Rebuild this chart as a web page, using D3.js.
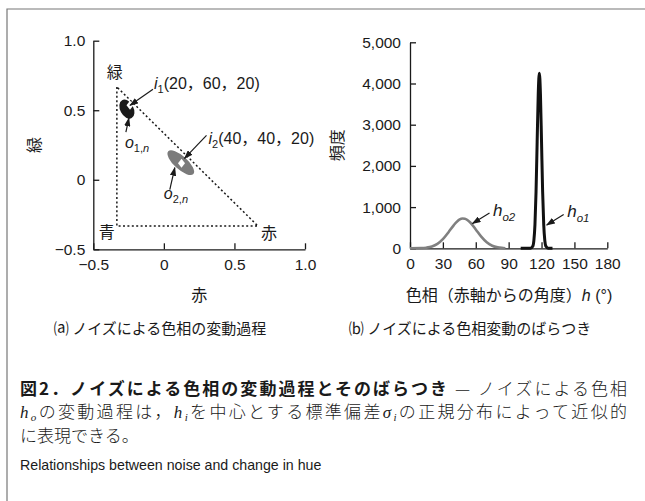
<!DOCTYPE html>
<html>
<head>
<meta charset="utf-8">
<style>
  body{ margin:0; background:#fff; }
  svg{ font-family:"Liberation Sans","Noto Sans CJK JP",sans-serif; }
  svg text{ fill:#1a1a1a; }
  .tick text{ font-size:15.5px; font-family:"Liberation Sans",sans-serif; }
  .domain, .tick line{ stroke:#1a1a1a; stroke-width:1.3; }
  .jp{ font-family:"Noto Sans CJK JP",sans-serif; }
</style>
<script src="https://d3js.org/d3.v7.min.js"></script>
</head>
<body>
<svg id="fig" width="645" height="501"></svg>
<script>
// (a) colour plane: triangle corners, inputs i and scattered outputs o
const planeTicks = [-0.5, 0, 0.5, 1.0];
const planeTickLabels = ['−0.5', '0', '0.5', '1.0'];
const primaryNames = ['緑', '青', '赤'];
const primaryX = [-0.333, -0.333, 0.667];
const primaryY = [0.667, -0.333, -0.333];
const inputIds = ['1', '2'];
const inputRGB = ['(20，60，20)', '(40，40，20)'];
const inputX = [-0.24, 0.125];
const inputY = [0.535, 0.118];
const outputX = [-0.262, 0.12];
const outputY = [0.508, 0.123];
const outputSpreadLong = [0.072, 0.12];
const outputSpreadShort = [0.047, 0.047];
const outputTilt = [62, 42];

// (b) hue histogram
const hueTicks = [0, 30, 60, 90, 120, 150, 180];
const countTicks = [0, 1000, 2000, 3000, 4000, 5000];
const countTickLabels = ['0', '1,000', '2,000', '3,000', '4,000', '5,000'];
const o2Hue = [0, 10, 15, 20, 25, 30, 35, 40, 45, 48, 50, 55, 60, 65, 70, 75, 80, 85, 87];
const o2Count = [0, 4, 15, 43, 107, 221, 385, 564, 695, 724, 719, 626, 458, 282, 146, 63, 23, 7, 2];
const o1Hue = [101, 110, 112, 113, 114, 115, 116, 117, 118, 119, 120, 121, 122, 123, 124, 126, 130];
const o1Count = [0, 1, 47, 187, 575, 1380, 2578, 3750, 4250, 3750, 2578, 1380, 575, 187, 47, 1, 0];

const svg = d3.select('#fig');
const ink = '#1a1a1a';

// frame
svg.append('path').attr('d', 'M7,501V9H645').attr('fill', 'none').attr('stroke', '#777').attr('stroke-width', 1.2);

svg.append('defs').append('marker')
  .attr('id', 'head').attr('markerUnits', 'userSpaceOnUse')
  .attr('viewBox', '0 0 10 7').attr('refX', 9).attr('refY', 3.5)
  .attr('markerWidth', 9).attr('markerHeight', 6.5).attr('orient', 'auto')
  .append('path').attr('d', 'M0,0L10,3.5L0,7z').attr('fill', ink);

function arrow(x1, y1, x2, y2){
  svg.append('line').attr('x1', x1).attr('y1', y1).attr('x2', x2).attr('y2', y2)
    .attr('stroke', ink).attr('stroke-width', 1.2).attr('marker-end', 'url(#head)');
}

// text made of pieces, sub pieces are lowered and smaller
function rich(parent, x, y, parts, size, subSize, drop){
  const t = parent.append('text').attr('x', x).attr('y', y).attr('font-size', size);
  let shift = 0;
  const low = drop == null ? Math.round(size*0.28) : drop;
  parts.forEach(p=>{
    const s = t.append('tspan').text(p.t);
    const want = p.sub ? low : 0;
    if(want !== shift){ s.attr('dy', want - shift); shift = want; }
    if(p.sub) s.attr('font-size', subSize);
    if(p.it) s.attr('font-style', 'italic');
    if(p.font) s.attr('font-family', p.font);
    if(p.w) s.attr('font-weight', p.w);
  });
  return t;
}

// ---------- (a) ----------
const xA = d3.scaleLinear().domain([-0.5, 1.0]).range([93.3, 305]);
const yA = d3.scaleLinear().domain([-0.5, 1.0]).range([249.3, 40.7]);

svg.append('g').attr('transform', `translate(0,${yA(-0.5)})`)
  .call(d3.axisBottom(xA).tickValues(planeTicks).tickFormat((d,i)=>planeTickLabels[i])
    .tickSizeInner(-6).tickSizeOuter(0).tickPadding(10));
svg.append('g').attr('transform', `translate(${xA(-0.5)},0)`)
  .call(d3.axisLeft(yA).tickValues(planeTicks).tickFormat((d,i)=>planeTickLabels[i])
    .tickSizeInner(-6).tickSizeOuter(0).tickPadding(8));

svg.append('text').attr('class', 'jp').attr('x', xA(0.25)).attr('y', 301)
  .attr('text-anchor', 'middle').attr('font-size', 16).text('赤');
svg.append('text').attr('class', 'jp').attr('transform', `translate(40,${yA(0.25)}) rotate(-90)`)
  .attr('text-anchor', 'middle').attr('font-size', 16).text('緑');

const corners = primaryX.map((x,i)=>[xA(x), yA(primaryY[i])]);
svg.append('path').attr('d', d3.line()(corners) + 'Z')
  .attr('fill', 'none').attr('stroke', ink).attr('stroke-width', 1.5).attr('stroke-dasharray', '2,2.4');
const cornerOffset = [[-2, -9], [-10, 12], [11, 13]];
primaryNames.forEach((n,i)=>{
  svg.append('text').attr('class', 'jp').attr('font-size', 16).attr('text-anchor', 'middle')
    .attr('x', corners[i][0] + cornerOffset[i][0]).attr('y', corners[i][1] + cornerOffset[i][1]).text(n);
});

// output clouds
const pxX = xA(1) - xA(0);
const cloudFill = [ink, '#7b7b7b'];
outputX.forEach((x,i)=>{
  const cx = xA(x), cy = yA(outputY[i]);
  svg.append('ellipse').attr('cx', cx).attr('cy', cy)
    .attr('rx', outputSpreadLong[i]*pxX).attr('ry', outputSpreadShort[i]*pxX)
    .attr('transform', `rotate(${outputTilt[i]},${cx},${cy})`)
    .attr('fill', cloudFill[i]);
});
// input points
inputX.forEach((x,i)=>{
  const cx = xA(x), cy = yA(inputY[i]);
  svg.append('path').attr('d', `M${cx},${cy-4.5}L${cx+3.5},${cy}L${cx},${cy+4.5}L${cx-3.5},${cy}Z`)
    .attr('fill', '#fff');
});

// annotations (a)
const inTip = [[0, 0], [3, -5]];
const inTail = [[23, -16], [25, -28]];
const inLabel = [[24, -16], [27, -19]];
inputX.forEach((x,i)=>{
  const px = xA(x), py = yA(inputY[i]);
  arrow(px + inTail[i][0], py + inTail[i][1], px + inTip[i][0], py + inTip[i][1]);
  rich(svg, px + inLabel[i][0], py + inLabel[i][1],
    [{t:'i', it:true}, {t:inputIds[i], sub:true}, {t:inputRGB[i]}], 16, 11);
});
const outTip = [[2, 9], [-6, 5]];
const outTail = [[-1, 23], [-11, 27]];
const outLabel = [[-2, 39], [-17, 36]];
outputX.forEach((x,i)=>{
  const px = xA(x), py = yA(outputY[i]);
  arrow(px + outTail[i][0], py + outTail[i][1], px + outTip[i][0], py + outTip[i][1]);
  rich(svg, px + outLabel[i][0], py + outLabel[i][1],
    [{t:'o', it:true}, {t:inputIds[i] + ',', sub:true}, {t:'n', sub:true, it:true}], 16, 11);
});

// ---------- (b) ----------
const xB = d3.scaleLinear().domain([0, 180]).range([410, 607.3]);
const yB = d3.scaleLinear().domain([0, 5000]).range([248.3, 42.3]);

svg.append('g').attr('transform', `translate(0,${yB(0)})`)
  .call(d3.axisBottom(xB).tickValues(hueTicks).tickSizeInner(-6).tickSizeOuter(0).tickPadding(10));
svg.append('g').attr('transform', `translate(${xB(0)},0)`)
  .call(d3.axisLeft(yB).tickValues(countTicks).tickFormat((d,i)=>countTickLabels[i])
    .tickSizeInner(-6).tickSizeOuter(0).tickPadding(9));

const line = d3.line().x(d=>xB(d[0])).y(d=>yB(d[1])).curve(d3.curveMonotoneX);
svg.append('path').attr('d', line(o2Hue.map((h,i)=>[h, o2Count[i]])))
  .attr('fill', 'none').attr('stroke', '#808080').attr('stroke-width', 2.6).attr('stroke-linejoin', 'round');
svg.append('path').attr('d', line(o1Hue.map((h,i)=>[h, o1Count[i]])))
  .attr('fill', 'none').attr('stroke', '#111').attr('stroke-width', 3).attr('stroke-linejoin', 'round');

svg.append('text').attr('class', 'jp').attr('transform', `translate(343,${yB(2500)}) rotate(-90)`)
  .attr('text-anchor', 'middle').attr('font-size', 16).text('頻度');
rich(svg, 509, 301, [
  {t:'色相（赤軸からの角度）', font:'Noto Sans CJK JP'}, {t:'h', it:true}, {t:' (°)'}
], 16, 11).attr('text-anchor', 'middle');

// curve labels
const hLab = [['o2', 57, 600], ['o1', 124.7, 565]];
hLab.forEach(([id, h, c])=>{
  const px = xB(h), py = yB(c);
  arrow(px + 17, py - 10.5, px, py);
  rich(svg, px + 20.5, py - 8, [{t:'h', it:true}, {t:id, sub:true, it:true}], 17, 11.5);
});

// ---------- captions ----------
svg.append('text').attr('class', 'jp').attr('x', 160).attr('y', 334).attr('text-anchor', 'middle')
  .attr('font-size', 15).text('⒜ ノイズによる色相の変動過程');
svg.append('text').attr('class', 'jp').attr('x', 470).attr('y', 334).attr('text-anchor', 'middle')
  .attr('font-size', 15).text('⒝ ノイズによる色相変動のばらつき');

const serifIt = '"Liberation Serif","DejaVu Serif",serif';
rich(svg, 20, 395, [
  {t:'図2．ノイズによる色相の変動過程とそのばらつき', w:700, font:'Noto Sans CJK JP'},
  {t:' — ノイズによる色相', w:300, font:'Noto Sans CJK JP'}
], 17, 12).attr('textLength', 607).attr('lengthAdjust', 'spacing');
rich(svg, 20, 418, [
  {t:'h', it:true, font:serifIt}, {t:'o', sub:true, it:true, font:serifIt},
  {t:'の変動過程は，', w:300, font:'Noto Sans CJK JP'},
  {t:'h', it:true, font:serifIt}, {t:'i', sub:true, it:true, font:serifIt},
  {t:'を中心とする標準偏差', w:300, font:'Noto Sans CJK JP'},
  {t:'σ', it:true, font:serifIt}, {t:'i', sub:true, it:true, font:serifIt},
  {t:'の正規分布によって近似的', w:300, font:'Noto Sans CJK JP'}
], 17, 11, 3).attr('textLength', 607).attr('lengthAdjust', 'spacing');
svg.append('text').attr('class', 'jp').attr('x', 20).attr('y', 442).attr('font-size', 17)
  .attr('font-weight', 300).text('に表現できる。');
svg.append('text').attr('x', 20).attr('y', 470).attr('font-size', 14.2)
  .text('Relationships between noise and change in hue');
</script>
</body>
</html>
